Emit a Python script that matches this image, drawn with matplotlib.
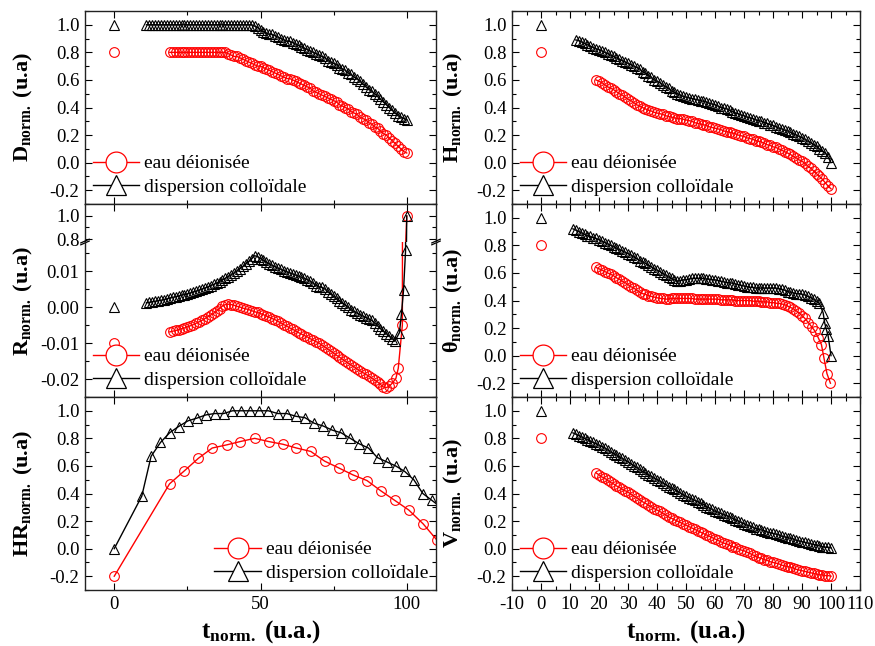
import numpy as np
import matplotlib
matplotlib.use("Agg")
import matplotlib.pyplot as plt
from matplotlib.lines import Line2D
from matplotlib.ticker import MultipleLocator, FormatStrFormatter

plt.rcParams['font.family'] = 'serif'
plt.rcParams['font.serif'] = ['Liberation Serif', 'DejaVu Serif']
plt.rcParams['mathtext.fontset'] = 'custom'
plt.rcParams['mathtext.rm'] = 'Liberation Serif'
plt.rcParams['mathtext.bf'] = 'Liberation Serif:bold'
plt.rcParams['mathtext.it'] = 'Liberation Serif:italic'
plt.rcParams['axes.unicode_minus'] = False

RED = '#ff0000'
labels = ['eau déionisée', 'dispersion colloïdale']

# ---- D (diametre) ----
D_black_start = 11
D_black = [1.00, 1.00, 1.00, 1.00, 1.00, 1.00, 1.00, 1.00, 1.00, 1.00,
           1.00, 1.00, 1.00, 1.00, 1.00, 1.00, 1.00, 1.00, 1.00, 1.00,
           1.00, 1.00, 1.00, 1.00, 1.00, 1.00, 1.00, 1.00, 1.00, 1.00,
           1.00, 1.00, 1.00, 1.00, 1.00, 1.00,
           1.00, 0.99, 0.98, 0.96, 0.95, 0.94, 0.93, 0.93, 0.92, 0.91,
           0.90, 0.89, 0.88, 0.88, 0.87, 0.86, 0.85, 0.84, 0.83, 0.82,
           0.81, 0.80, 0.79, 0.78, 0.77, 0.76, 0.74, 0.73, 0.72, 0.71,
           0.69, 0.68, 0.67, 0.65, 0.64, 0.62, 0.61, 0.59, 0.57, 0.55,
           0.53, 0.52, 0.50, 0.48, 0.46, 0.44, 0.42, 0.40, 0.38, 0.36,
           0.34, 0.33, 0.32, 0.31]
D_red_start = 19
D_red = [0.80, 0.80, 0.80, 0.80, 0.80, 0.80, 0.80, 0.80, 0.80, 0.80,
         0.80, 0.80, 0.80, 0.80, 0.80, 0.80, 0.80, 0.80, 0.80, 0.80,
         0.79, 0.78, 0.77, 0.77, 0.76, 0.75, 0.74, 0.73, 0.72, 0.71,
         0.70, 0.70, 0.69, 0.68, 0.67, 0.66, 0.65, 0.64, 0.63, 0.62,
         0.61, 0.61, 0.60, 0.59, 0.58, 0.57, 0.56, 0.55, 0.54, 0.52,
         0.51, 0.50, 0.49, 0.48, 0.47, 0.46, 0.45, 0.44, 0.42, 0.41,
         0.40, 0.39, 0.37, 0.36, 0.35, 0.33, 0.32, 0.31, 0.29, 0.28,
         0.26, 0.25, 0.23, 0.21, 0.20, 0.18, 0.16, 0.14, 0.12, 0.10,
         0.08, 0.07]

# ---- H (hauteur) ----
H_black_start = 12
H_black = [0.89, 0.885, 0.875, 0.865, 0.855, 0.845, 0.835, 0.825, 0.82, 0.81,
           0.80, 0.79, 0.78, 0.77, 0.76, 0.75, 0.74, 0.73, 0.72, 0.71,
           0.70, 0.69, 0.68, 0.66, 0.65, 0.63, 0.62, 0.60, 0.59, 0.58,
           0.56, 0.55, 0.54, 0.52, 0.51, 0.50, 0.49, 0.48, 0.475, 0.47,
           0.465, 0.46, 0.455, 0.45, 0.445, 0.44, 0.43, 0.425, 0.42, 0.41,
           0.40, 0.395, 0.39, 0.38, 0.37, 0.36, 0.355, 0.345, 0.34, 0.33,
           0.325, 0.32, 0.31, 0.305, 0.30, 0.29, 0.285, 0.275, 0.27, 0.26,
           0.25, 0.245, 0.235, 0.23, 0.22, 0.21, 0.20, 0.19, 0.18, 0.17,
           0.155, 0.145, 0.13, 0.12, 0.10, 0.085, 0.07, 0.04, 0.00]
H_red_start = 19
H_red = [0.60, 0.59, 0.58, 0.565, 0.55, 0.54, 0.53, 0.515, 0.50, 0.49,
         0.475, 0.46, 0.45, 0.435, 0.42, 0.41, 0.40, 0.39, 0.38, 0.375,
         0.365, 0.36, 0.355, 0.35, 0.34, 0.335, 0.33, 0.325, 0.32, 0.32,
         0.315, 0.31, 0.305, 0.30, 0.29, 0.285, 0.28, 0.275, 0.27, 0.26,
         0.255, 0.25, 0.245, 0.24, 0.23, 0.225, 0.22, 0.215, 0.21, 0.20,
         0.195, 0.19, 0.18, 0.175, 0.17, 0.16, 0.155, 0.15, 0.14, 0.13,
         0.125, 0.115, 0.11, 0.10, 0.09, 0.08, 0.07, 0.06, 0.045, 0.035,
         0.02, 0.01, -0.005, -0.025, -0.04, -0.06, -0.08, -0.10, -0.12, -0.145,
         -0.17, -0.19]

# ---- R (rapport) ----
R_black_start = 11
R_black = [0.0012, 0.0013, 0.0015, 0.0016, 0.0018, 0.0019, 0.0021, 0.0023, 0.0025, 0.0027,
           0.0029, 0.0031, 0.0033, 0.0035, 0.0037, 0.0039, 0.0042, 0.0044, 0.0047, 0.0050,
           0.0053, 0.0056, 0.0060, 0.0063, 0.0067, 0.0071, 0.0076, 0.0080, 0.0085, 0.0090,
           0.0095, 0.0101, 0.0107, 0.0113, 0.0120, 0.0127, 0.0135, 0.0143, 0.0140, 0.0135,
           0.0130, 0.0125, 0.0120, 0.0116, 0.0112, 0.0108, 0.0105, 0.0101, 0.0098, 0.0095,
           0.0092, 0.0089, 0.0086, 0.0083, 0.0080, 0.0076, 0.0072, 0.0066, 0.0060, 0.0056,
           0.0055, 0.0050, 0.0043, 0.0036, 0.0030, 0.0024, 0.0018, 0.0012, 0.0005, -0.0001,
           -0.0008, -0.0012, -0.0017, -0.0021, -0.0025, -0.0029, -0.0033, -0.0037, -0.0044, -0.0052,
           -0.0060, -0.0067, -0.0074, -0.0081, -0.0088, -0.0094]
R_black_tail_x = [97.5, 98.2, 98.9, 99.6, 100.0]
R_black_tail = [-0.0071, -0.0018, 0.0047, 0.0158, 1.0]
R_red_start = 19
R_red = [-0.0069, -0.0067, -0.0065, -0.0063, -0.0060, -0.0058, -0.0055, -0.0052, -0.0049, -0.0045,
         -0.0041, -0.0037, -0.0032, -0.0027, -0.0022, -0.0017, -0.0011, -0.0004, 0.0003, 0.0007,
         0.0008, 0.0007, 0.0005, 0.0002, 0.0000, -0.0003, -0.0005, -0.0007, -0.0010, -0.0013,
         -0.0015, -0.0018, -0.0021, -0.0025, -0.0028, -0.0032, -0.0035, -0.0040, -0.0044, -0.0049,
         -0.0053, -0.0058, -0.0062, -0.0066, -0.0071, -0.0075, -0.0079, -0.0083, -0.0088, -0.0092,
         -0.0096, -0.0100, -0.0106, -0.0111, -0.0117, -0.0122, -0.0128, -0.0134, -0.0139, -0.0145,
         -0.0150, -0.0156, -0.0161, -0.0166, -0.0172, -0.0177, -0.0182, -0.0187, -0.0192, -0.0197,
         -0.0203, -0.0208, -0.0215, -0.0222, -0.0224, -0.0220, -0.0212]
R_red_tail_x = [96.3, 97.1, 98.5, 100.0]
R_red_tail = [-0.0198, -0.0170, -0.0050, 1.0]

# ---- theta (angle de contact) ----
T_black_start = 11
T_black = [0.92, 0.91, 0.90, 0.89, 0.88, 0.87, 0.865, 0.855, 0.85, 0.84,
           0.83, 0.82, 0.81, 0.80, 0.79, 0.78, 0.77, 0.76, 0.75, 0.74,
           0.73, 0.715, 0.705, 0.69, 0.68, 0.67, 0.655, 0.645, 0.63, 0.62,
           0.61, 0.595, 0.585, 0.57, 0.56, 0.55, 0.54, 0.545, 0.55, 0.55,
           0.555, 0.56, 0.56, 0.56, 0.56, 0.56, 0.555, 0.555, 0.55, 0.55,
           0.545, 0.54, 0.535, 0.53, 0.53, 0.525, 0.52, 0.515, 0.51, 0.505,
           0.50, 0.495, 0.495, 0.49, 0.49, 0.49, 0.49, 0.49, 0.49, 0.49,
           0.49, 0.485, 0.48, 0.475, 0.465, 0.46, 0.455, 0.45, 0.45, 0.445,
           0.44, 0.43, 0.42, 0.41, 0.395, 0.38]
T_black_tail_x = [97.3, 97.8, 98.4, 99.0, 100.0]
T_black_tail = [0.31, 0.24, 0.19, 0.145, 0.0]
T_red_start = 19
T_red = [0.64, 0.63, 0.62, 0.61, 0.60, 0.59, 0.58, 0.565, 0.555, 0.54,
         0.53, 0.515, 0.50, 0.49, 0.475, 0.46, 0.45, 0.445, 0.435, 0.43,
         0.425, 0.42, 0.415, 0.415, 0.41, 0.41, 0.415, 0.415, 0.415, 0.415,
         0.415, 0.415, 0.415, 0.415, 0.41, 0.41, 0.41, 0.41, 0.41, 0.41,
         0.41, 0.41, 0.41, 0.405, 0.405, 0.405, 0.405, 0.405, 0.40, 0.40,
         0.40, 0.40, 0.40, 0.40, 0.395, 0.395, 0.395, 0.39, 0.39, 0.39,
         0.385, 0.385, 0.38, 0.38, 0.375, 0.37, 0.36, 0.35, 0.34, 0.325,
         0.31, 0.29, 0.27]
T_red_tail_x = [92.2, 93.3, 94.4, 95.6, 96.7, 97.6, 98.6, 99.8]
T_red_tail = [0.24, 0.21, 0.18, 0.13, 0.08, -0.02, -0.13, -0.20]

# ---- HR ----
HR_black_x = [0, 9.4, 12.6, 15.8, 18.9, 22.0, 25.2, 28.3, 31.3, 34.3, 37.4, 40.4, 43.4,
              46.5, 49.6, 52.7, 55.9, 59.0, 62.1, 65.2, 68.3, 71.4, 74.5, 77.6, 80.7,
              83.8, 86.9, 90.0, 93.1, 96.2, 99.3, 102.4, 105.5, 108.6, 111.7]
HR_black = [0.0, 0.38, 0.67, 0.77, 0.84, 0.886, 0.927, 0.947, 0.97, 0.98, 0.98, 1.0, 1.0,
            1.0, 1.0, 1.0, 0.98, 0.98, 0.96, 0.95, 0.91, 0.89, 0.86, 0.84, 0.80,
            0.76, 0.73, 0.66, 0.63, 0.60, 0.56, 0.50, 0.40, 0.35, 0.30]
HR_red_x = [0, 18.9, 24.0, 28.8, 33.5, 38.5, 43.1, 48.0, 52.8, 57.7, 62.3, 67.2, 71.9,
            76.7, 81.6, 86.4, 91.1, 95.9, 100.7, 105.6, 110.4]
HR_red = [-0.20, 0.47, 0.565, 0.656, 0.73, 0.753, 0.777, 0.80, 0.777, 0.757, 0.73, 0.705,
          0.635, 0.586, 0.535, 0.494, 0.42, 0.35, 0.28, 0.18, 0.06]

# ---- V (volume) ----
V_black_start = 11
V_black = [0.84, 0.83, 0.82, 0.81, 0.80, 0.79, 0.78, 0.77, 0.76, 0.75,
           0.74, 0.73, 0.715, 0.70, 0.69, 0.68, 0.665, 0.655, 0.64, 0.63,
           0.615, 0.60, 0.59, 0.575, 0.56, 0.55, 0.535, 0.525, 0.51, 0.50,
           0.49, 0.475, 0.465, 0.45, 0.44, 0.43, 0.415, 0.405, 0.39, 0.38,
           0.37, 0.36, 0.35, 0.34, 0.33, 0.32, 0.305, 0.295, 0.285, 0.27,
           0.265, 0.255, 0.245, 0.24, 0.23, 0.22, 0.21, 0.20, 0.19, 0.18,
           0.17, 0.165, 0.155, 0.145, 0.14, 0.135, 0.13, 0.12, 0.115, 0.11,
           0.105, 0.10, 0.09, 0.085, 0.08, 0.075, 0.07, 0.06, 0.055, 0.05,
           0.045, 0.04, 0.035, 0.03, 0.025, 0.02, 0.015, 0.01, 0.01, 0.005]
V_red_start = 19
V_red = [0.55, 0.535, 0.52, 0.51, 0.495, 0.48, 0.47, 0.455, 0.445, 0.43,
         0.42, 0.41, 0.395, 0.38, 0.37, 0.355, 0.34, 0.33, 0.315, 0.305,
         0.29, 0.28, 0.27, 0.255, 0.245, 0.23, 0.22, 0.21, 0.20, 0.19,
         0.18, 0.17, 0.16, 0.15, 0.14, 0.13, 0.12, 0.11, 0.10, 0.09,
         0.08, 0.07, 0.06, 0.05, 0.04, 0.035, 0.025, 0.015, 0.01, 0.00,
         -0.01, -0.015, -0.025, -0.035, -0.045, -0.055, -0.065, -0.07, -0.08, -0.085,
         -0.095, -0.10, -0.105, -0.11, -0.12, -0.125, -0.13, -0.135, -0.14, -0.15,
         -0.155, -0.16, -0.165, -0.17, -0.175, -0.18, -0.185, -0.19, -0.19, -0.195,
         -0.195, -0.20]

# isolated points at t = 0
P0_black, P0_red = 1.0, 0.8
R0_black, R0_red = 0.0, -0.01


def xs(start, vals):
    return start + np.arange(len(vals))


def px(l, t, w, h):
    return [l / 875, 1 - (t + h) / 646, w / 875, h / 646]


MS = 7
red_kw = dict(color=RED, marker='o', ms=MS, mfc='none', mew=0.8, lw=1.0)
blk_kw = dict(color='black', marker='^', ms=MS, mfc='none', mew=0.8, lw=1.0)


def draw(ax, xr, yr, xb, yb):
    ax.plot(xr, yr, **red_kw)
    ax.plot(xb, yb, **blk_kw)


def points0(ax, yb, yr):
    ax.plot([0], [yr], ls='none', marker='o', ms=MS, mfc='none', mec=RED, mew=0.8)
    ax.plot([0], [yb], ls='none', marker='^', ms=MS, mfc='none', mec='black', mew=0.8)


def style(ax, right_col, ymaj=0.2, ymin=0.1):
    ax.set_xlim(-10, 110)
    if right_col:
        ax.xaxis.set_major_locator(MultipleLocator(10))
        ax.xaxis.set_minor_locator(MultipleLocator(5))
    else:
        ax.xaxis.set_major_locator(MultipleLocator(50))
        ax.xaxis.set_minor_locator(MultipleLocator(25))
    ax.yaxis.set_major_locator(MultipleLocator(ymaj))
    ax.yaxis.set_minor_locator(MultipleLocator(ymin))
    ax.tick_params(which='both', direction='in', top=True, right=True,
                   labelsize=13.5, width=0.8, pad=4)
    ax.tick_params(which='major', length=5)
    ax.tick_params(which='minor', length=3)
    for s in ax.spines.values():
        s.set_linewidth(1.0)
        s.set_color('#222222')


def legend(ax, loc):
    hr = Line2D([], [], color=RED, marker='o', ms=15, mfc='white', mew=0.9, lw=1.0)
    hb = Line2D([], [], color='black', marker='^', ms=15, mfc='white', mew=0.9, lw=1.0)
    ax.legend([hr, hb], labels, loc=loc, frameon=False, fontsize=14,
              handlelength=2.4, handletextpad=0.25, labelspacing=0.32,
              borderaxespad=0.3, borderpad=0.1)


def ylab(ax, main, right_col, ypos=0.5):
    ax.set_ylabel(main + r'$_{\mathbf{norm.}}$ (u.a)', fontsize=16, fontweight='bold')
    ax.yaxis.set_label_coords(-0.134 if right_col else -0.142, ypos)


fig = plt.figure(figsize=(8.75, 6.46), dpi=100)
L, W = 85, 351
RX, RW = 512, 348

# D
ax = fig.add_axes(px(L, 11, W, 193))
draw(ax, xs(D_red_start, D_red), D_red, xs(D_black_start, D_black), D_black)
points0(ax, P0_black, P0_red)
style(ax, False)
ax.set_ylim(-0.3, 1.1)
ax.yaxis.set_major_formatter(FormatStrFormatter('%.1f'))
ax.tick_params(labelbottom=False)
legend(ax, 'lower left')
ylab(ax, 'D', False)

# H
ax = fig.add_axes(px(RX, 11, RW, 193))
draw(ax, xs(H_red_start, H_red), H_red, xs(H_black_start, H_black), H_black)
points0(ax, P0_black, P0_red)
style(ax, True)
ax.set_ylim(-0.3, 1.1)
ax.yaxis.set_major_formatter(FormatStrFormatter('%.1f'))
ax.tick_params(labelbottom=False)
legend(ax, 'lower left')
ylab(ax, 'H', True)

# R : broken axis (upper part + lower part)
axu = fig.add_axes(px(L, 204, W, 38))
axl = fig.add_axes(px(L, 242, W, 155))
rxr = list(xs(R_red_start, R_red)) + R_red_tail_x
ryr = R_red + R_red_tail
rxb = list(xs(R_black_start, R_black)) + R_black_tail_x
ryb = R_black + R_black_tail
for a in (axu, axl):
    draw(a, rxr, ryr, rxb, ryb)
points0(axl, R0_black, R0_red)
style(axu, False)
style(axl, False, 0.01, 0.005)
axu.set_ylim(0.774, 1.104)
axl.set_ylim(-0.025, 0.0181)
axu.yaxis.set_major_formatter(FormatStrFormatter('%.1f'))
axl.yaxis.set_major_formatter(FormatStrFormatter('%.2f'))
axu.spines['bottom'].set_visible(False)
axl.spines['top'].set_visible(False)
axu.tick_params(which='both', bottom=False, labelbottom=False)
axl.tick_params(which='both', top=False, labelbottom=False)
legend(axl, 'lower left')
ylab(axl, 'R', False, ypos=0.62)
for xa in (0.0, 1.0):
    for dy in (-0.006, 0.006):
        axl.plot([xa - 0.012, xa + 0.012], [1.0 + dy - 0.012, 1.0 + dy + 0.012],
                 transform=axl.transAxes, color='black', lw=0.9, clip_on=False)

# theta
ax = fig.add_axes(px(RX, 204, RW, 193))
draw(ax, list(xs(T_red_start, T_red)) + T_red_tail_x, T_red + T_red_tail,
     list(xs(T_black_start, T_black)) + T_black_tail_x, T_black + T_black_tail)
points0(ax, P0_black, P0_red)
style(ax, True)
ax.set_ylim(-0.3, 1.1)
ax.yaxis.set_major_formatter(FormatStrFormatter('%.1f'))
ax.tick_params(labelbottom=False)
legend(ax, 'lower left')
ylab(ax, 'θ', True)

# HR
ax = fig.add_axes(px(L, 397, W, 193))
draw(ax, HR_red_x, HR_red, HR_black_x, HR_black)
style(ax, False)
ax.set_ylim(-0.3, 1.1)
ax.yaxis.set_major_formatter(FormatStrFormatter('%.1f'))
legend(ax, 'lower right')
ylab(ax, 'HR', False)
ax.set_xlabel(r't$_{\mathbf{norm.}}$ (u.a.)', fontsize=18, fontweight='bold', labelpad=4)

# V
ax = fig.add_axes(px(RX, 397, RW, 193))
draw(ax, xs(V_red_start, V_red), V_red, xs(V_black_start, V_black), V_black)
points0(ax, P0_black, P0_red)
style(ax, True)
ax.set_ylim(-0.3, 1.1)
ax.yaxis.set_major_formatter(FormatStrFormatter('%.1f'))
legend(ax, 'lower left')
ylab(ax, 'V', True)
ax.set_xlabel(r't$_{\mathbf{norm.}}$ (u.a.)', fontsize=18, fontweight='bold', labelpad=4)

fig.savefig('out.png', dpi=100)
